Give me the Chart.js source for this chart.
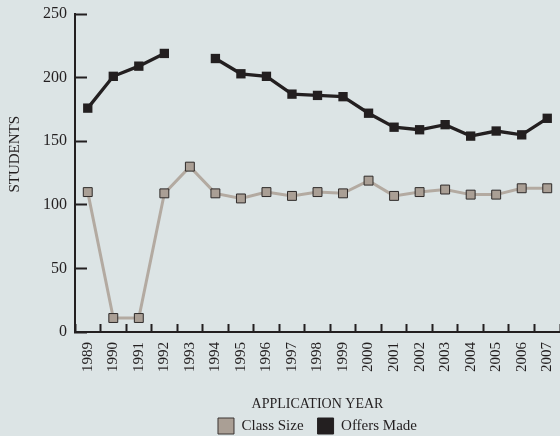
<!DOCTYPE html>
<html>
<head>
<meta charset="utf-8">
<script src="https://cdn.jsdelivr.net/npm/chart.js@4/dist/chart.umd.min.js"></script>
<style>
  html, body { margin: 0; padding: 0; background: #dce4e5; }
  #wrap { width: 560px; height: 436px; position: relative; }
</style>
</head>
<body>
<div id="wrap"><canvas id="c" width="560" height="436"></canvas></div>
<script>
const years = ["1989","1990","1991","1992","1993","1994","1995","1996","1997","1998","1999","2000","2001","2002","2003","2004","2005","2006","2007"];
const classSize = [110, 11, 11, 109, 130, 109, 105, 110, 107, 110, 109, 119, 107, 110, 112, 108, 108, 113, 113];
const offersMade = [176, 201, 209, 219, null, 215, 203, 201, 187, 186, 185, 172, 161, 159, 163, 154, 158, 155, 168];
const yTicks = [0, 50, 100, 150, 200, 250];

const ink = '#231f20';
const serif = "'Liberation Serif', 'DejaVu Serif', serif";

new Chart(document.getElementById('c'), {
  type: 'line',
  data: {
    labels: years,
    datasets: [
      {
        label: 'Class Size',
        data: classSize,
        borderColor: '#b3aaa1',
        borderWidth: 3,
        backgroundColor: '#aa9f95',
        pointStyle: 'rect',
        pointRadius: 6.3,
        pointBorderColor: '#2e2a29',
        pointBorderWidth: 1,
        pointBackgroundColor: '#aa9f95',
        tension: 0,
        spanGaps: false,
        clip: false
      },
      {
        label: 'Offers Made',
        data: offersMade,
        borderColor: ink,
        borderWidth: 3.3,
        backgroundColor: ink,
        pointStyle: 'rect',
        pointRadius: 6.6,
        pointBorderColor: ink,
        pointBorderWidth: 0,
        pointBackgroundColor: ink,
        tension: 0,
        spanGaps: false,
        clip: false
      }
    ]
  },
  options: {
    responsive: false,
    animation: false,
    layout: { autoPadding: false, padding: { left: 0, right: 0, top: 14, bottom: -8 } },
    plugins: {
      tooltip: { enabled: false },
      legend: {
        position: 'bottom',
        fullSize: false,
        labels: {
          color: ink,
          font: { family: serif, size: 15 },
          boxWidth: 16,
          boxHeight: 16,
          padding: 14,
          generateLabels: (chart) => chart.data.datasets.map((ds, i) => ({
            text: ds.label,
            fillStyle: ds.pointBackgroundColor,
            strokeStyle: i === 0 ? '#3a3432' : ink,
            lineWidth: 1,
            hidden: false,
            datasetIndex: i,
            fontColor: ink
          }))
        }
      }
    },
    scales: {
      x: {
        offset: true,
        afterFit: (s) => { s.height = 72; s.paddingLeft = 0; s.paddingRight = 0; },
        grid: {
          offset: true,
          drawOnChartArea: false,
          drawTicks: true,
          tickLength: -8,
          tickWidth: 2,
          color: ink
        },
        border: { display: true, color: ink, width: 2 },
        ticks: {
          color: ink,
          font: { family: serif, size: 15 },
          minRotation: 90,
          maxRotation: 90,
          padding: 18,
          autoSkip: false
        },
        title: {
          display: true,
          text: 'APPLICATION YEAR',
          color: ink,
          font: { family: serif, size: 14 },
          padding: { top: 0, bottom: -8.4 }
        }
      },
      y: {
        min: 0,
        max: 250,
        afterFit: (s) => { s.width = 75; s.paddingTop = 0; s.paddingBottom = 0; },
        afterBuildTicks: (scale) => { scale.ticks = yTicks.map(v => ({ value: v })); },
        grid: {
          drawOnChartArea: false,
          drawTicks: true,
          tickLength: -12,
          tickWidth: 2,
          color: ink
        },
        border: { display: true, color: ink, width: 2 },
        ticks: {
          color: ink,
          font: { family: serif, size: 16 },
          padding: 20
        },
        title: {
          display: true,
          text: '\u00a0\u00a0\u00a0\u00a0\u00a0\u00a0\u00a0\u00a0\u00a0\u00a0STUDENTS',
          color: ink,
          font: { family: serif, size: 15 },
          padding: { top: 6, bottom: 0 }
        }
      }
    }
  },
  plugins: [{
    id: 'bg',
    beforeDraw: (chart) => {
      const ctx = chart.ctx;
      ctx.save();
      ctx.fillStyle = '#dce4e5';
      ctx.fillRect(0, 0, chart.width, chart.height);
      ctx.restore();
    }
  }]
});
</script>
</body>
</html>
